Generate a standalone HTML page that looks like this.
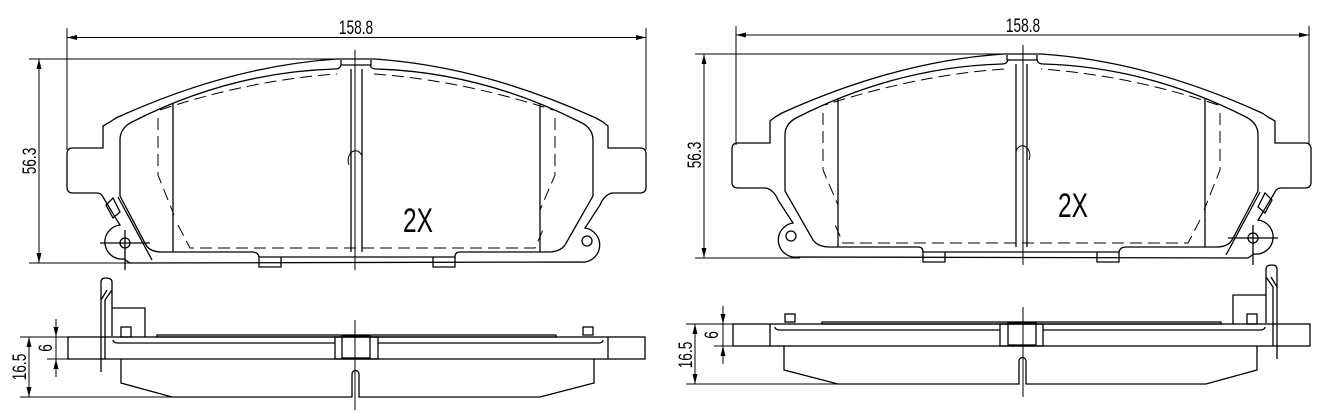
<!DOCTYPE html>
<html><head><meta charset="utf-8"><style>
html,body{margin:0;padding:0;background:#fff;}
svg{display:block;}
text{font-family:"Liberation Sans",sans-serif;fill:#000;}
</style></head><body>
<svg width="1322" height="413" viewBox="0 0 1322 413" xmlns="http://www.w3.org/2000/svg">
<defs>
<g id="top" fill="none" stroke="#000" stroke-width="1.3">
  <path d="M116,118 Q230,66 337,59 L374,59 Q481,66 596,118 L603,122 L608,126 L608,148 L640,148 Q646,148 646,154 L646,187 Q646,193 640,193 L612,193 Q604,195 600,205 L585,228 A15,15 0 0 1 580,262 L130,263 L124,259 A16,16 0 0 1 120,225 L118,222 L103,197 Q101,193 97,193 L73,193 Q67,193 67,187 L67,154 Q67,148 73,148 L103,148 L103,126 L110,122 Z"/>
  <path d="M341,60 L341,65 L371,65 L371,60"/>
  <path d="M120,196 L120,140 Q120,128 132,122 Q230,72 335,69 Q340,69 341,65 M370,65 Q371,69 376,69 Q481,72 580,122 Q593,128 593,140 L593,196 L565,245 Q560,252 548,252 L460,252 Q455,252 455,257 L259,257 Q258,252 252,252 L162,252 Q150,252 146,245 L120,196"/>
  <path d="M259,257 L259,267 L281,267 L281,257 M433,257 L433,267 L455,267 L455,257"/>
  <path d="M118,197 L152,260 M100,243 L150,243 M125,230 L125,270"/>
  <path d="M106,205 L113,198 L120,212 L113,218 Z"/>
  <circle cx="125" cy="243" r="5"/>
  <circle cx="587" cy="241" r="5"/>
  <path d="M173,104 L173,252 M540,104 L540,252 M351,69 L351,252 M362,69 L362,252"/>
  <path d="M355,50 L355,270" stroke-width="1"/>
  <path d="M349,165 A6,8 0 1 1 362,156" stroke-width="1"/>
  <g stroke-dasharray="12,6" stroke-width="1">
    <path d="M160,110 Q250,80 337,74 M374,74 Q460,80 553,110"/>
    <path d="M158,118 L158,175 L174,215 M555,118 L555,175 L540,210"/>
    <path d="M178,225 L190,248 L535,248 L545,225"/>
  </g>
</g>
<g id="side" fill="none" stroke="#000" stroke-width="1.3">
  <rect x="68" y="337" width="577" height="22"/>
  <path d="M105,337 L105,359 M608,337 L608,359"/>
  <path d="M113,340 Q113,343 118,343 L335,343 M378,343 L598,343 Q603,343 603,340"/>
  <rect x="335" y="337" width="43" height="22"/>
  <rect x="342" y="336" width="28" height="22"/>
  <rect x="157" y="335" width="399" height="2"/>
  <path d="M121,359 L121,383 L172,397 L352,397 L352,374 A3.5,3.5 0 0 1 359,374 L359,397 L540,397 L594,383 L594,359"/>
  <path d="M101,372 L101,282 Q101,278 106,278 Q112,278 112,282 L112,336 M107,290 L101,300 M112,282 L112,290 L105,300 L105,337"/>
  <path d="M112,308 L145,308 L145,337"/>
  <rect x="121" y="327" width="10" height="10"/>
  <rect x="583" y="327" width="10" height="8"/>
  <path d="M355,320 L355,410" stroke-width="1"/>
</g>
</defs>

<!-- LEFT -->
<use href="#top"/>
<use href="#side"/>
<g stroke="#000" stroke-width="1" fill="none">
  <path d="M67,28 L67,150 M646,28 L646,150 M67,37.5 L646,37.5"/>
  <path d="M29,59 L355,59 M29,263 L130,263 M39,59 L39,263"/>
  <path d="M20,337 L68,337 M20,397 L172,397 M29,337 L29,397"/>
  <path d="M56,319 L56,377 M47,359 L120,359"/>
</g>
<g fill="#000">
  <path d="M67,37.5 L77,35 L77,40 Z M646,37.5 L636,35 L636,40 Z"/>
  <path d="M39,59 L36.5,69 L41.5,69 Z M39,263 L36.5,253 L41.5,253 Z"/>
  <path d="M29,337 L26.5,347 L31.5,347 Z M29,397 L26.5,387 L31.5,387 Z"/>
  <path d="M56,337 L53.5,327 L58.5,327 Z M56,359 L53.5,369 L58.5,369 Z"/>
</g>
<text font-size="19" text-anchor="middle" transform="translate(356,34) scale(0.72,1)">158.8</text>
<text transform="translate(36,161) rotate(-90) scale(0.72,1)" font-size="19" text-anchor="middle">56.3</text>
<text font-size="34" text-anchor="middle" transform="translate(418,232) scale(0.72,1)">2X</text>
<text transform="translate(26,367) rotate(-90) scale(0.72,1)" font-size="19" text-anchor="middle">16.5</text>
<text transform="translate(52,348) rotate(-90) scale(0.72,1)" font-size="19" text-anchor="middle">6</text>

<!-- RIGHT -->
<g transform="translate(1378,-5) scale(-1,1)"><use href="#top"/></g>
<g transform="translate(1378,-13) scale(-1,1)"><use href="#side"/></g>
<g stroke="#000" stroke-width="1" fill="none">
  <path d="M736,26 L736,145 M1309,26 L1309,145 M736,35 L1309,35"/>
  <path d="M695,54 L1023,54 M695,258 L800,258 M704,54 L704,258"/>
  <path d="M686,324 L734,324 M686,384 L840,384 M695,324 L695,384"/>
  <path d="M723,306 L723,364 M714,346 L790,346"/>
</g>
<g fill="#000">
  <path d="M736,35 L746,32.5 L746,37.5 Z M1309,35 L1299,32.5 L1299,37.5 Z"/>
  <path d="M704,54 L701.5,64 L706.5,64 Z M704,258 L701.5,248 L706.5,248 Z"/>
  <path d="M695,324 L692.5,334 L697.5,334 Z M695,384 L692.5,374 L697.5,374 Z"/>
  <path d="M723,324 L720.5,314 L725.5,314 Z M723,346 L720.5,356 L725.5,356 Z"/>
</g>
<text font-size="19" text-anchor="middle" transform="translate(1023,32) scale(0.72,1)">158.8</text>
<text transform="translate(701,155) rotate(-90) scale(0.72,1)" font-size="19" text-anchor="middle">56.3</text>
<text font-size="34" text-anchor="middle" transform="translate(1073,217) scale(0.72,1)">2X</text>
<text transform="translate(692,355) rotate(-90) scale(0.72,1)" font-size="19" text-anchor="middle">16.5</text>
<text transform="translate(718,335) rotate(-90) scale(0.72,1)" font-size="19" text-anchor="middle">6</text>
</svg>
</body></html>
